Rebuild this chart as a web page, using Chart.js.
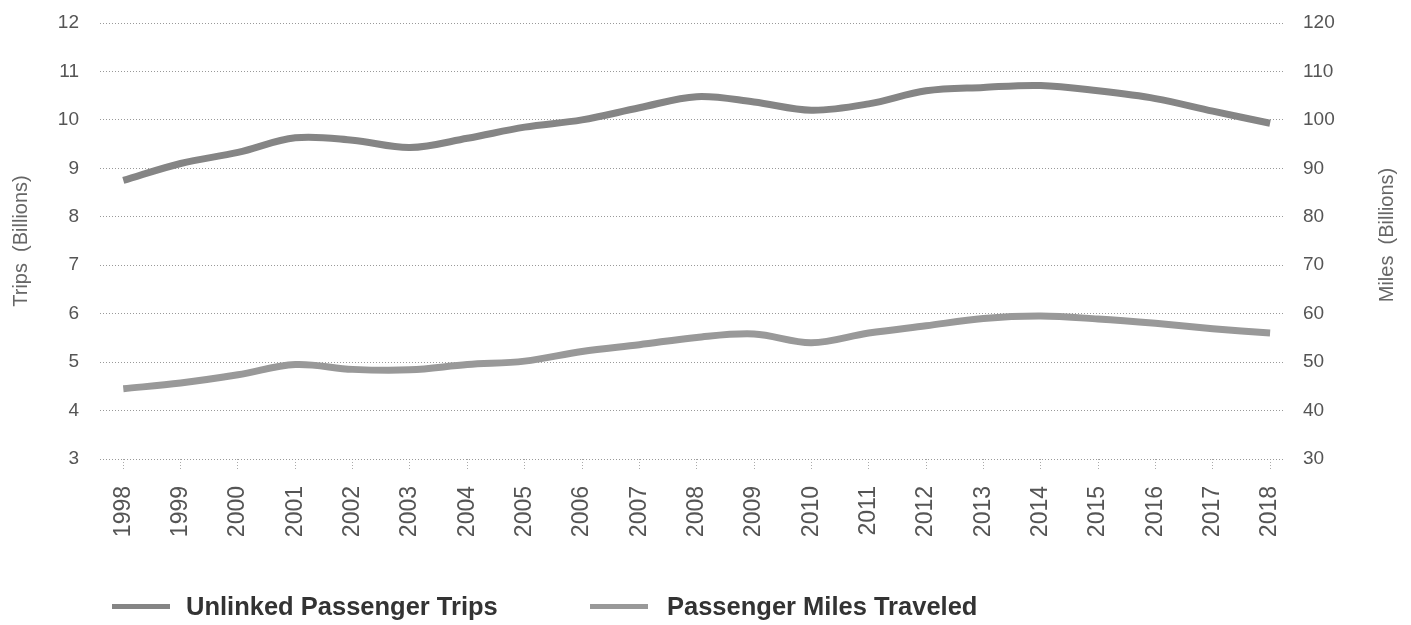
<!DOCTYPE html>
<html lang="en">

<head>
    <meta charset="UTF-8">
    <title>Unlinked Passenger Trips and Passenger Miles Traveled</title>
    <script src="https://cdn.jsdelivr.net/npm/chart.js"></script>
    <style>
        body {
            margin: 0;
            background: #fff;
            font-family: "Liberation Sans", Arial, Helvetica, sans-serif;
        }
        #chart-container {
            position: relative;
            width: 1411px;
            height: 625px;
        }
        #legend {
            position: absolute;
            top: 591px;
            left: 0;
            height: 30px;
        }
        .item {
            position: absolute;
            top: 0;
            white-space: nowrap;
            font-weight: bold;
            font-size: 25.5px;
            color: #333;
            line-height: 30px;
        }
        .swatch {
            position: absolute;
            top: 13px;
            width: 58px;
            height: 5px;
        }
    </style>
</head>

<body>
    <div id="chart-container">
        <canvas id="liveChart"></canvas>
        <div id="legend"></div>
    </div>

    <script>
        const years = [1998, 1999, 2000, 2001, 2002, 2003, 2004, 2005, 2006, 2007, 2008,
            2009, 2010, 2011, 2012, 2013, 2014, 2015, 2016, 2017, 2018];
        // billions of trips (left axis)
        const trips = [8.75, 9.1, 9.33, 9.63, 9.58, 9.43, 9.62, 9.85, 10.0, 10.25, 10.48,
            10.37, 10.2, 10.33, 10.6, 10.67, 10.71, 10.6, 10.44, 10.18, 9.93];
        // billions of miles (right axis)
        const miles = [44.5, 45.7, 47.4, 49.5, 48.5, 48.4, 49.5, 50.2, 52.2, 53.6, 55.1,
            55.8, 54.0, 56.0, 57.5, 59.0, 59.5, 58.9, 58.0, 56.9, 56.0];
        const seriesNames = ['Unlinked Passenger Trips', 'Passenger Miles Traveled'];
        const seriesColors = ['#858585', '#999999'];
        const leftTitle = 'Trips  (Billions)';
        const rightTitle = 'Miles  (Billions)';

        const tickFont = { family: '"Liberation Sans", Arial, sans-serif', size: 19 };

        // right axis title reads bottom-to-top like the left one
        const rightTitlePlugin = {
            id: 'rightTitle',
            afterDraw(chart) {
                const area = chart.chartArea;
                const ctx = chart.ctx;
                ctx.save();
                ctx.translate(1387, (area.top + area.bottom) / 2 - 6);
                ctx.rotate(-Math.PI / 2);
                ctx.font = '20px "Liberation Sans", Arial, sans-serif';
                ctx.fillStyle = '#666';
                ctx.textAlign = 'center';
                ctx.textBaseline = 'middle';
                ctx.fillText(rightTitle, 0, 0);
                ctx.restore();
            }
        };

        const fitY = (w) => (scale) => {
            scale.width = w;
            scale.paddingTop = 0;
            scale.paddingBottom = 0;
        };

        const ctx = document.getElementById('liveChart').getContext('2d');
        const liveChart = new Chart(ctx, {
            type: 'line',
            data: {
                datasets: [{
                    label: seriesNames[0],
                    data: years.map((y, i) => ({ x: y, y: trips[i] })),
                    yAxisID: 'y',
                    borderColor: seriesColors[0],
                    borderWidth: 7,
                    tension: 0.35,
                    pointRadius: 0,
                    fill: false
                }, {
                    label: seriesNames[1],
                    data: years.map((y, i) => ({ x: y, y: miles[i] })),
                    yAxisID: 'y1',
                    borderColor: seriesColors[1],
                    borderWidth: 7,
                    tension: 0.35,
                    pointRadius: 0,
                    fill: false
                }]
            },
            options: {
                responsive: true,
                maintainAspectRatio: false,
                animation: false,
                layout: { padding: { top: 23, left: 0, right: 0, bottom: 0 } },
                plugins: {
                    legend: { display: false },
                    tooltip: { enabled: false }
                },
                scales: {
                    x: {
                        type: 'linear',
                        min: 1997.594,
                        max: 2018.26,
                        afterBuildTicks: (scale) => {
                            scale.ticks = years.map(v => ({ value: v }));
                        },
                        afterFit: (scale) => {
                            scale.height = 166;
                            scale.paddingLeft = 0;
                            scale.paddingRight = 0;
                        },
                        grid: {
                            drawOnChartArea: false,
                            drawTicks: true,
                            tickLength: 12,
                            tickColor: '#aaa',
                            tickBorderDash: [1, 2]
                        },
                        border: { display: false },
                        ticks: {
                            autoSkip: false,
                            minRotation: 90,
                            maxRotation: 90,
                            padding: 15,
                            color: '#555',
                            font: { family: tickFont.family, size: 23 },
                            callback: v => String(v)
                        }
                    },
                    y: {
                        position: 'left',
                        min: 3,
                        max: 12,
                        afterFit: fitY(100),
                        ticks: { stepSize: 1, padding: 21, color: '#555', font: tickFont },
                        grid: { color: '#999', drawTicks: false, lineWidth: 1 },
                        border: { display: false, dash: [1, 2] },
                        title: {
                            display: true,
                            text: leftTitle,
                            color: '#666',
                            font: { family: tickFont.family, size: 20 },
                            padding: { top: 9, bottom: 0 }
                        }
                    },
                    y1: {
                        position: 'right',
                        min: 30,
                        max: 120,
                        afterFit: fitY(126),
                        ticks: { stepSize: 10, padding: 18, color: '#555', font: tickFont },
                        grid: { display: false, drawTicks: false },
                        border: { display: false }
                    }
                }
            },
            plugins: [rightTitlePlugin]
        });

        // legend below the plot
        const legendPos = [{ swatch: 112, text: 186 }, { swatch: 590, text: 667 }];
        const legend = document.getElementById('legend');
        liveChart.data.datasets.forEach((ds, i) => {
            const sw = document.createElement('div');
            sw.className = 'swatch';
            sw.style.left = legendPos[i].swatch + 'px';
            sw.style.background = ds.borderColor;
            legend.appendChild(sw);
            const t = document.createElement('div');
            t.className = 'item';
            t.style.left = legendPos[i].text + 'px';
            t.textContent = ds.label;
            legend.appendChild(t);
        });
    </script>
</body>

</html>
